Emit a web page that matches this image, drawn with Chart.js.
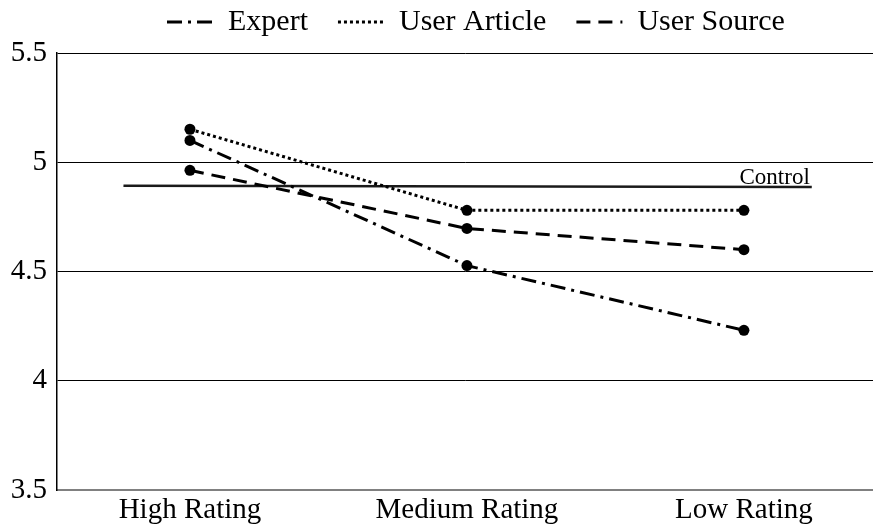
<!DOCTYPE html>
<html>
<head>
<meta charset="utf-8">
<script src="https://cdn.jsdelivr.net/npm/chart.js@4.4.1/dist/chart.umd.min.js"></script>
<style>
  html, body { margin: 0; padding: 0; background: #fff; }
  #wrap { width: 873px; height: 531px; }
</style>
</head>
<body>
<div id="wrap"><canvas id="c" width="873" height="531"></canvas></div>
<script>
// ---- data ----
const categories = ['High Rating', 'Medium Rating', 'Low Rating'];
const categoryIndex = [0, 1, 2];
const expert = [5.10, 4.527, 4.231];
const userArticle = [5.151, 4.780, 4.780];
const userSource = [4.963, 4.697, 4.600];
const controlX = [-0.24, 2.245];
const controlY = [4.892, 4.887];
const yTicks = [3.5, 4, 4.5, 5, 5.5];
const yTickLabels = ['3.5', '4', '4.5', '5', '5.5'];

Chart.defaults.font.family = "'Liberation Serif', 'Times New Roman', serif";
Chart.defaults.color = '#000';

function pts(vals) { return vals.map((v, i) => ({ x: categoryIndex[i], y: v })); }

const seriesStyle = (label, vals, dash) => ({
  label: label,
  data: pts(vals),
  borderColor: '#000',
  backgroundColor: '#000',
  borderWidth: 3,
  borderDash: dash,
  pointRadius: 5.5,
  pointBackgroundColor: '#000',
  pointBorderColor: '#000',
  pointBorderWidth: 0,
  tension: 0,
  fill: false
});

const datasets = [
  seriesStyle('Expert', expert, [15, 6, 3, 6]),
  seriesStyle('User Article', userArticle, [3, 3]),
  seriesStyle('User Source', userSource, [14, 8]),
  {
    label: 'Control',
    data: controlX.map((x, i) => ({ x: x, y: controlY[i] })),
    borderColor: '#1a1a1a',
    borderWidth: 2.5,
    pointRadius: 0,
    tension: 0,
    fill: false
  }
];

const adjustPlugin = {
  id: 'adjust',
  afterLayout(chart) {
    const lg = chart.legend;
    if (!lg || !lg.lineWidths) return;
    const pad = lg.options.labels.padding;
    const start = (lg.left + pad + lg.right - lg.lineWidths[0]) / 2;
    const shift = 167 - start;
    lg.left += shift; lg.right += shift;
    lg.top -= 23;
  },
  afterDatasetsDraw(chart) {
    const meta = chart.getDatasetMeta(3);
    const last = meta.data[meta.data.length - 1];
    const ctx = chart.ctx;
    ctx.save();
    ctx.font = "23px 'Liberation Serif', serif";
    ctx.fillStyle = '#000';
    ctx.textAlign = 'right';
    ctx.textBaseline = 'alphabetic';
    ctx.fillText(chart.data.datasets[3].label, last.x - 2, last.y - 3);
    ctx.restore();
  }
};

new Chart(document.getElementById('c'), {
  type: 'line',
  data: { datasets: datasets },
  options: {
    responsive: false,
    animation: false,
    layout: { padding: 0, autoPadding: false },
    plugins: {
      tooltip: { enabled: false },
      legend: {
        position: 'top',
        maxHeight: 53,
        labels: {
          font: { size: 30 },
          color: '#000',
          padding: 30,
          usePointStyle: true,
          pointStyleWidth: 46,
          boxHeight: 30,
          filter: (item) => item.text !== 'Control',
          generateLabels(chart) {
            return chart.data.datasets.map((ds, i) => ({
              text: ds.label,
              datasetIndex: i,
              pointStyle: 'line',
              lineDash: ds.borderDash || [],
              lineWidth: 3,
              strokeStyle: '#000',
              fillStyle: '#000',
              fontColor: '#000',
              hidden: false
            }));
          }
        }
      }
    },
    scales: {
      x: {
        type: 'linear',
        min: -0.48,
        max: 2.466,
        afterBuildTicks(scale) { scale.ticks = categoryIndex.map(v => ({ value: v })); },
        afterFit(scale) { scale.height = 41; scale.paddingLeft = 0; scale.paddingRight = 0; },
        ticks: {
          font: { size: 29 },
          color: '#000',
          padding: 3,
          maxRotation: 0,
          autoSkip: false,
          callback: (v) => categories[v]
        },
        grid: { display: false, drawTicks: false },
        border: { display: true, color: '#808080', width: 2 }
      },
      y: {
        type: 'linear',
        min: 3.5,
        max: 5.5,
        afterBuildTicks(scale) { scale.ticks = yTicks.map(v => ({ value: v })); },
        afterFit(scale) { scale.width = 57; },
        ticks: {
          font: { size: 29 },
          color: '#000',
          padding: 10,
          callback: (v) => yTickLabels[yTicks.indexOf(v)]
        },
        grid: {
          drawTicks: false,
          lineWidth: 1,
          color: (ctx) => (ctx.tick && ctx.tick.value === 3.5) ? 'rgba(0,0,0,0)' : '#000'
        },
        border: { display: true, color: '#000', width: 1.5 }
      }
    }
  },
  plugins: [adjustPlugin]
});
</script>
</body>
</html>
